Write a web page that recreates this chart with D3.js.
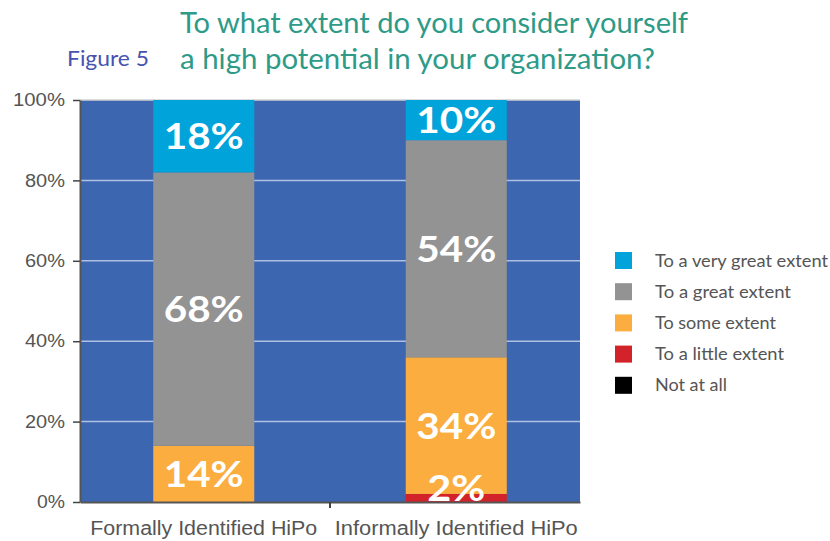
<!DOCTYPE html>
<html>
<head>
<meta charset="utf-8">
<script src="https://cdn.jsdelivr.net/npm/d3@7/dist/d3.min.js"></script>
<style>
  html, body { margin: 0; padding: 0; background: #fff; }
  svg { display: block; font-family: Lato, "Open Sans", sans-serif; }
</style>
</head>
<body>
<svg id="chart" width="830" height="541"></svg>
<script>
// Survey groups and response categories (stacked bottom to top)
const groups = ["Formally Identified HiPo", "Informally Identified HiPo"];
const responses = ["Not at all", "To a little extent", "To some extent", "To a great extent", "To a very great extent"];
const colors = ["#000000", "#D2232A", "#FBAE3F", "#939393", "#00A3DA"];

// Percentages per response, one value per group
const notAtAll = [0, 0];
const littleExtent = [0, 2];
const someExtent = [14, 34];
const greatExtent = [68, 54];
const veryGreatExtent = [18, 10];

const yTicks = [0, 20, 40, 60, 80, 100];

const seriesValues = [notAtAll, littleExtent, someExtent, greatExtent, veryGreatExtent];
const rows = groups.map((g, i) => {
  const r = { group: g };
  responses.forEach((k, j) => { r[k] = seriesValues[j][i]; });
  return r;
});

const svg = d3.select("#chart");
const plot = { left: 80, right: 580, top: 100, bottom: 502 };

const x = d3.scaleBand().domain(groups).range([plot.left, plot.right]).paddingInner(0.6).paddingOuter(0.29);
const y = d3.scaleLinear().domain([0, 100]).range([plot.bottom, plot.top]);

// Title
const titleLines = [
  { text: "To what extent do you consider yourself", y: 33, w: 508 },
  { text: "a high potential in your organization?", y: 69, w: 475 }
];
svg.append("g").selectAll("text").data(titleLines).join("text")
  .attr("x", 180).attr("y", d => d.y)
  .attr("fill", "#2E9A88").attr("font-size", 29)
  .attr("textLength", d => d.w).attr("lengthAdjust", "spacingAndGlyphs")
  .text(d => d.text);
svg.append("text").attr("x", 67).attr("y", 66)
  .attr("fill", "#4653B0").attr("font-size", 21)
  .attr("textLength", 82).attr("lengthAdjust", "spacingAndGlyphs")
  .text("Figure 5");

// Plot background
svg.append("rect")
  .attr("x", plot.left).attr("y", plot.top)
  .attr("width", plot.right - plot.left).attr("height", plot.bottom - plot.top)
  .attr("fill", "#3D66B0");

// Gridlines
svg.append("g").selectAll("line").data(yTicks.filter(t => t > 0)).join("line")
  .attr("x1", plot.left).attr("x2", plot.right)
  .attr("y1", d => y(d)).attr("y2", d => y(d))
  .attr("stroke", d => d === 100 ? "#d0d0d0" : "#AFC0E2").attr("stroke-width", 1.5);

// Stacked bars
const stack = d3.stack().keys(responses)(rows);
const layers = svg.append("g").selectAll("g").data(stack).join("g")
  .attr("fill", (d, i) => colors[i]);
layers.selectAll("rect").data(d => d).join("rect")
  .attr("x", d => x(d.data.group))
  .attr("width", x.bandwidth())
  .attr("y", d => y(d[1]))
  .attr("height", d => y(d[0]) - y(d[1]));

// Value labels
const labels = [];
stack.forEach(layer => layer.forEach(d => {
  const v = d[1] - d[0];
  if (v > 0) labels.push({ group: d.data.group, v, mid: (d[0] + d[1]) / 2 });
}));
svg.append("g").selectAll("text").data(labels).join("text")
  .attr("x", d => x(d.group) + x.bandwidth() / 2)
  .attr("y", d => Math.min(y(d.mid) + 13, plot.bottom - 1))
  .attr("text-anchor", "middle")
  .attr("fill", "#fff").attr("font-weight", "bold").attr("font-size", 36)
  .attr("textLength", d => String(d.v).length > 1 ? 80 : 58)
  .attr("lengthAdjust", "spacingAndGlyphs")
  .text(d => d.v + "%");

// Axes
const yAxis = svg.append("g").attr("transform", `translate(${plot.left},0)`)
  .call(d3.axisLeft(y).tickValues(yTicks).tickFormat(d => d + "%").tickSize(7).tickSizeOuter(0));
yAxis.select(".domain").attr("stroke", "#555").attr("stroke-width", 2);
yAxis.selectAll(".tick line").attr("stroke", "#444").attr("stroke-width", 1.5);
yAxis.selectAll(".tick text").attr("fill", "#555").attr("font-size", 18).attr("x", -15)
  .attr("textLength", d => String(d).length * 12 + 16).attr("lengthAdjust", "spacingAndGlyphs");

const xAxis = svg.append("g").attr("transform", `translate(0,${plot.bottom})`)
  .call(d3.axisBottom(x).tickSize(0).tickSizeOuter(0));
xAxis.select(".domain").attr("stroke", "#555").attr("stroke-width", 2);
xAxis.selectAll(".tick text").attr("fill", "#555").attr("font-size", 20).attr("dy", "1.5em")
  .attr("textLength", (d, i) => i === 0 ? 227 : 243).attr("lengthAdjust", "spacingAndGlyphs");
// Separator tick between the two groups
const sep = (x(groups[0]) + x.bandwidth() + x(groups[1])) / 2;
svg.append("line").attr("x1", sep).attr("x2", sep)
  .attr("y1", plot.bottom).attr("y2", plot.bottom + 6)
  .attr("stroke", "#444").attr("stroke-width", 2);

// Legend (top to bottom: very great → not at all)
const legendWidths = [173, 136, 121, 129, 72];
const legendItems = responses.map((r, i) => ({ r, c: colors[i] })).reverse();
const legend = svg.append("g").selectAll("g").data(legendItems).join("g")
  .attr("transform", (d, i) => `translate(615,${252 + i * 31.2})`);
legend.append("rect").attr("width", 17).attr("height", 17).attr("fill", d => d.c);
legend.append("text").attr("x", 40).attr("y", 14.5)
  .attr("fill", "#555").attr("font-size", 17)
  .attr("textLength", (d, i) => legendWidths[i]).attr("lengthAdjust", "spacingAndGlyphs")
  .text(d => d.r);
</script>
</body>
</html>
